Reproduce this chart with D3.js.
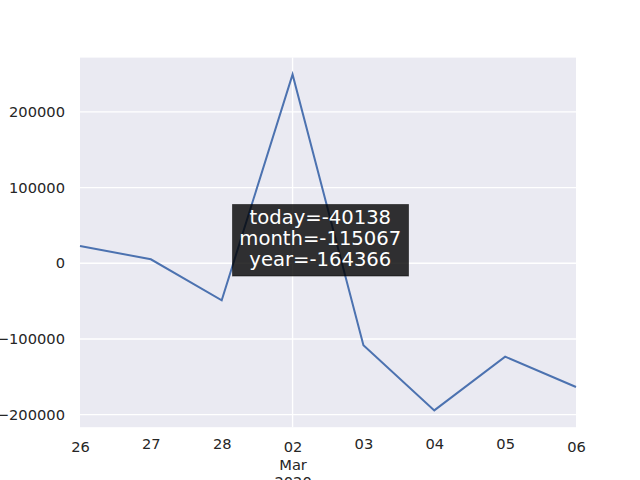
<!DOCTYPE html>
<html>
<head>
<meta charset="utf-8">
<script src="https://cdn.jsdelivr.net/npm/d3@7"></script>
<style>
  html, body { margin: 0; padding: 0; background: #ffffff; }
  svg { display: block; }
  text { font-family: "DejaVu Sans", sans-serif; }
</style>
</head>
<body>
<svg id="chart" width="640" height="480"></svg>
<script>
// ---- data ----
const dayLabels = ["26", "27", "28", "02", "03", "04", "05", "06"];
const majorLabels = { "02": ["02", "Mar", "2020"] };
const values = [22900, 5300, -48900, 249600, -108400, -194400, -123400, -163500];
const yTicks = [-200000, -100000, 0, 100000, 200000];
const annotationLines = ["today=-40138", "month=-115067", "year=-164366"];

// ---- layout ----
const plotL = 80, plotR = 576, plotT = 57.6, plotB = 427.2;

const svg = d3.select("#chart");

const x = d3.scaleLinear().domain([0, dayLabels.length - 1]).range([plotL, plotR]);
const [vmin, vmax] = d3.extent(values);
const pad = (vmax - vmin) * 0.05;
const y = d3.scaleLinear().domain([vmin - pad, vmax + pad]).range([plotB, plotT]);

// background
svg.append("rect")
  .attr("x", plotL).attr("y", plotT)
  .attr("width", plotR - plotL).attr("height", plotB - plotT)
  .attr("fill", "#eaeaf2");

// horizontal grid
svg.append("g").selectAll("line").data(yTicks).join("line")
  .attr("x1", plotL).attr("x2", plotR)
  .attr("y1", d => y(d)).attr("y2", d => y(d))
  .attr("stroke", "#ffffff").attr("stroke-width", 1.33);

// vertical grid only at major tick
const majorIdx = dayLabels.map((d, i) => majorLabels[d] ? i : null).filter(d => d !== null);
svg.append("g").selectAll("line").data(majorIdx).join("line")
  .attr("x1", d => x(d)).attr("x2", d => x(d))
  .attr("y1", plotT).attr("y2", plotB)
  .attr("stroke", "#ffffff").attr("stroke-width", 1.33);

// line
const line = d3.line().x((d, i) => x(i)).y(d => y(d));
svg.append("path")
  .datum(values)
  .attr("d", line)
  .attr("fill", "none")
  .attr("stroke", "#4c72b0")
  .attr("stroke-width", 2)
  .attr("stroke-linejoin", "miter");

// y axis
const yAxis = d3.axisLeft(y).tickValues(yTicks).tickSize(0).tickPadding(15)
  .tickFormat(d => d < 0 ? "\u2212" + Math.abs(d) : String(d));
const gy = svg.append("g").attr("transform", `translate(${plotL},0)`).call(yAxis);
gy.select(".domain").remove();
gy.selectAll("text").attr("font-size", 14.67).attr("fill", "#262626")
  .attr("font-family", "DejaVu Sans, sans-serif");

// x axis
const xAxis = d3.axisBottom(x).tickValues(d3.range(dayLabels.length)).tickSize(0)
  .tickFormat(i => dayLabels[i]);
const gx = svg.append("g").attr("transform", `translate(0,${plotB})`).call(xAxis);
gx.select(".domain").remove();
gx.selectAll(".tick text").each(function(i) {
  const t = d3.select(this);
  const lbl = dayLabels[i];
  const isEdge = (i === 0 || i === dayLabels.length - 1);
  const lines = majorLabels[lbl] || [lbl];
  const isMajor = !!majorLabels[lbl] || isEdge;
  t.text(null)
   .attr("font-size", 14.67).attr("fill", "#262626")
   .attr("font-family", "DejaVu Sans, sans-serif")
   .attr("y", 0).attr("dy", null);
  lines.forEach((s, k) => {
    t.append("tspan")
      .attr("x", 0)
      .attr("y", (isMajor ? 25 : 21.8) + k * 17.6)
      .text(s);
  });
});

// annotation box
const ann = svg.append("g");
ann.append("rect")
  .attr("x", 232.5).attr("y", 204.5).attr("width", 176).attr("height", 71.5)
  .attr("fill", "#000000").attr("fill-opacity", 0.8)
  .attr("stroke", "#000000").attr("stroke-opacity", 0.5).attr("stroke-width", 1);
ann.selectAll("text").data(annotationLines).join("text")
  .attr("x", 320.3)
  .attr("y", (d, i) => 224 + i * 21)
  .attr("text-anchor", "middle")
  .attr("font-size", 19.6)
  .attr("fill", "#ffffff")
  .text(d => d);
</script>
</body>
</html>
